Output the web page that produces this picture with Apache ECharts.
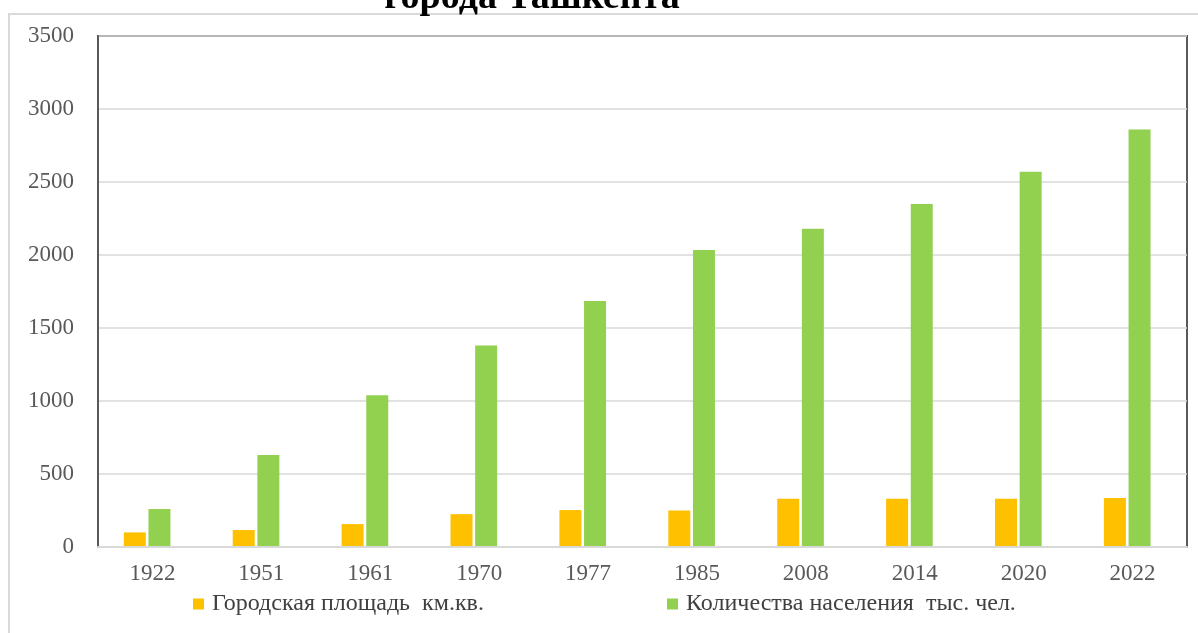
<!DOCTYPE html>
<html>
<head>
<meta charset="utf-8">
<script src="https://cdn.jsdelivr.net/npm/echarts@6/dist/echarts.min.js"></script>
<style>
html,body{margin:0;padding:0;background:#fff;}
#c{width:1198px;height:633px;}
</style>
</head>
<body>
<div id="c"></div>
<script>
const years = ['1922','1951','1961','1970','1977','1985','2008','2014','2020','2022'];
const areaValues = [100, 116, 157, 225, 253, 250, 330, 330, 330, 335];
const popValues = [260, 630, 1040, 1380, 1685, 2035, 2180, 2350, 2570, 2860];
const seriesNames = ['Городская площадь  км.кв.', 'Количества населения  тыс. чел.'];
const titleText = 'города Ташкента';

const font = '"Liberation Serif", "Times New Roman", serif';
const legendText = { fontFamily: font, fontSize: 24, color: '#404040', padding: [0,0,0,3] };
const chart = echarts.init(document.getElementById('c'));
chart.setOption({
  backgroundColor: '#fff',
  animation: false,
  graphic: [
    { type: 'rect', shape: { x: 9, y: 14, width: 1200, height: 630 }, style: { fill: 'none', stroke: '#d9d9d9', lineWidth: 2 }, z: -1 },
    { type: 'text', x: 532, y: -2, style: { text: titleText, font: 'bold 38px ' + font, fill: '#000', textAlign: 'center', textVerticalAlign: 'middle' } }
  ],
  grid: { left: 98, right: 11, top: 36, bottom: 86, show: true, borderColor: '#595959', borderWidth: 2, backgroundColor: 'transparent' },
  legend: [
    { data: [seriesNames[0]], left: 188, top: 587, icon: 'rect', itemWidth: 11, itemHeight: 11, textStyle: legendText },
    { data: [seriesNames[1]], left: 662, top: 587, icon: 'rect', itemWidth: 11, itemHeight: 11, textStyle: legendText }
  ],
  xAxis: {
    type: 'category', data: years,
    axisLine: { show: true, lineStyle: { color: '#d9d9d9', width: 2 } },
    axisTick: { show: false },
    axisLabel: { fontFamily: font, fontSize: 23, color: '#595959', margin: 15 },
    z: 5
  },
  yAxis: {
    type: 'value', min: 0, max: 3500, interval: 500,
    axisLine: { show: true, lineStyle: { color: '#595959', width: 2 } },
    axisTick: { show: false },
    splitLine: { lineStyle: { color: '#d9d9d9', width: 1.5 } },
    axisLabel: { fontFamily: font, fontSize: 23, color: '#595959', margin: 24, formatter: v => String(v) }
  },
  series: [
    { name: seriesNames[0], type: 'bar', data: areaValues, barWidth: 22, barGap: '12%', itemStyle: { color: '#FFC000' } },
    { name: seriesNames[1], type: 'bar', data: popValues, barWidth: 22, barGap: '12%', itemStyle: { color: '#92D050' } },
    { name: 'spacer', type: 'bar', data: [], barWidth: 8, barGap: '12%', silent: true }
  ]
});
</script>
</body>
</html>
